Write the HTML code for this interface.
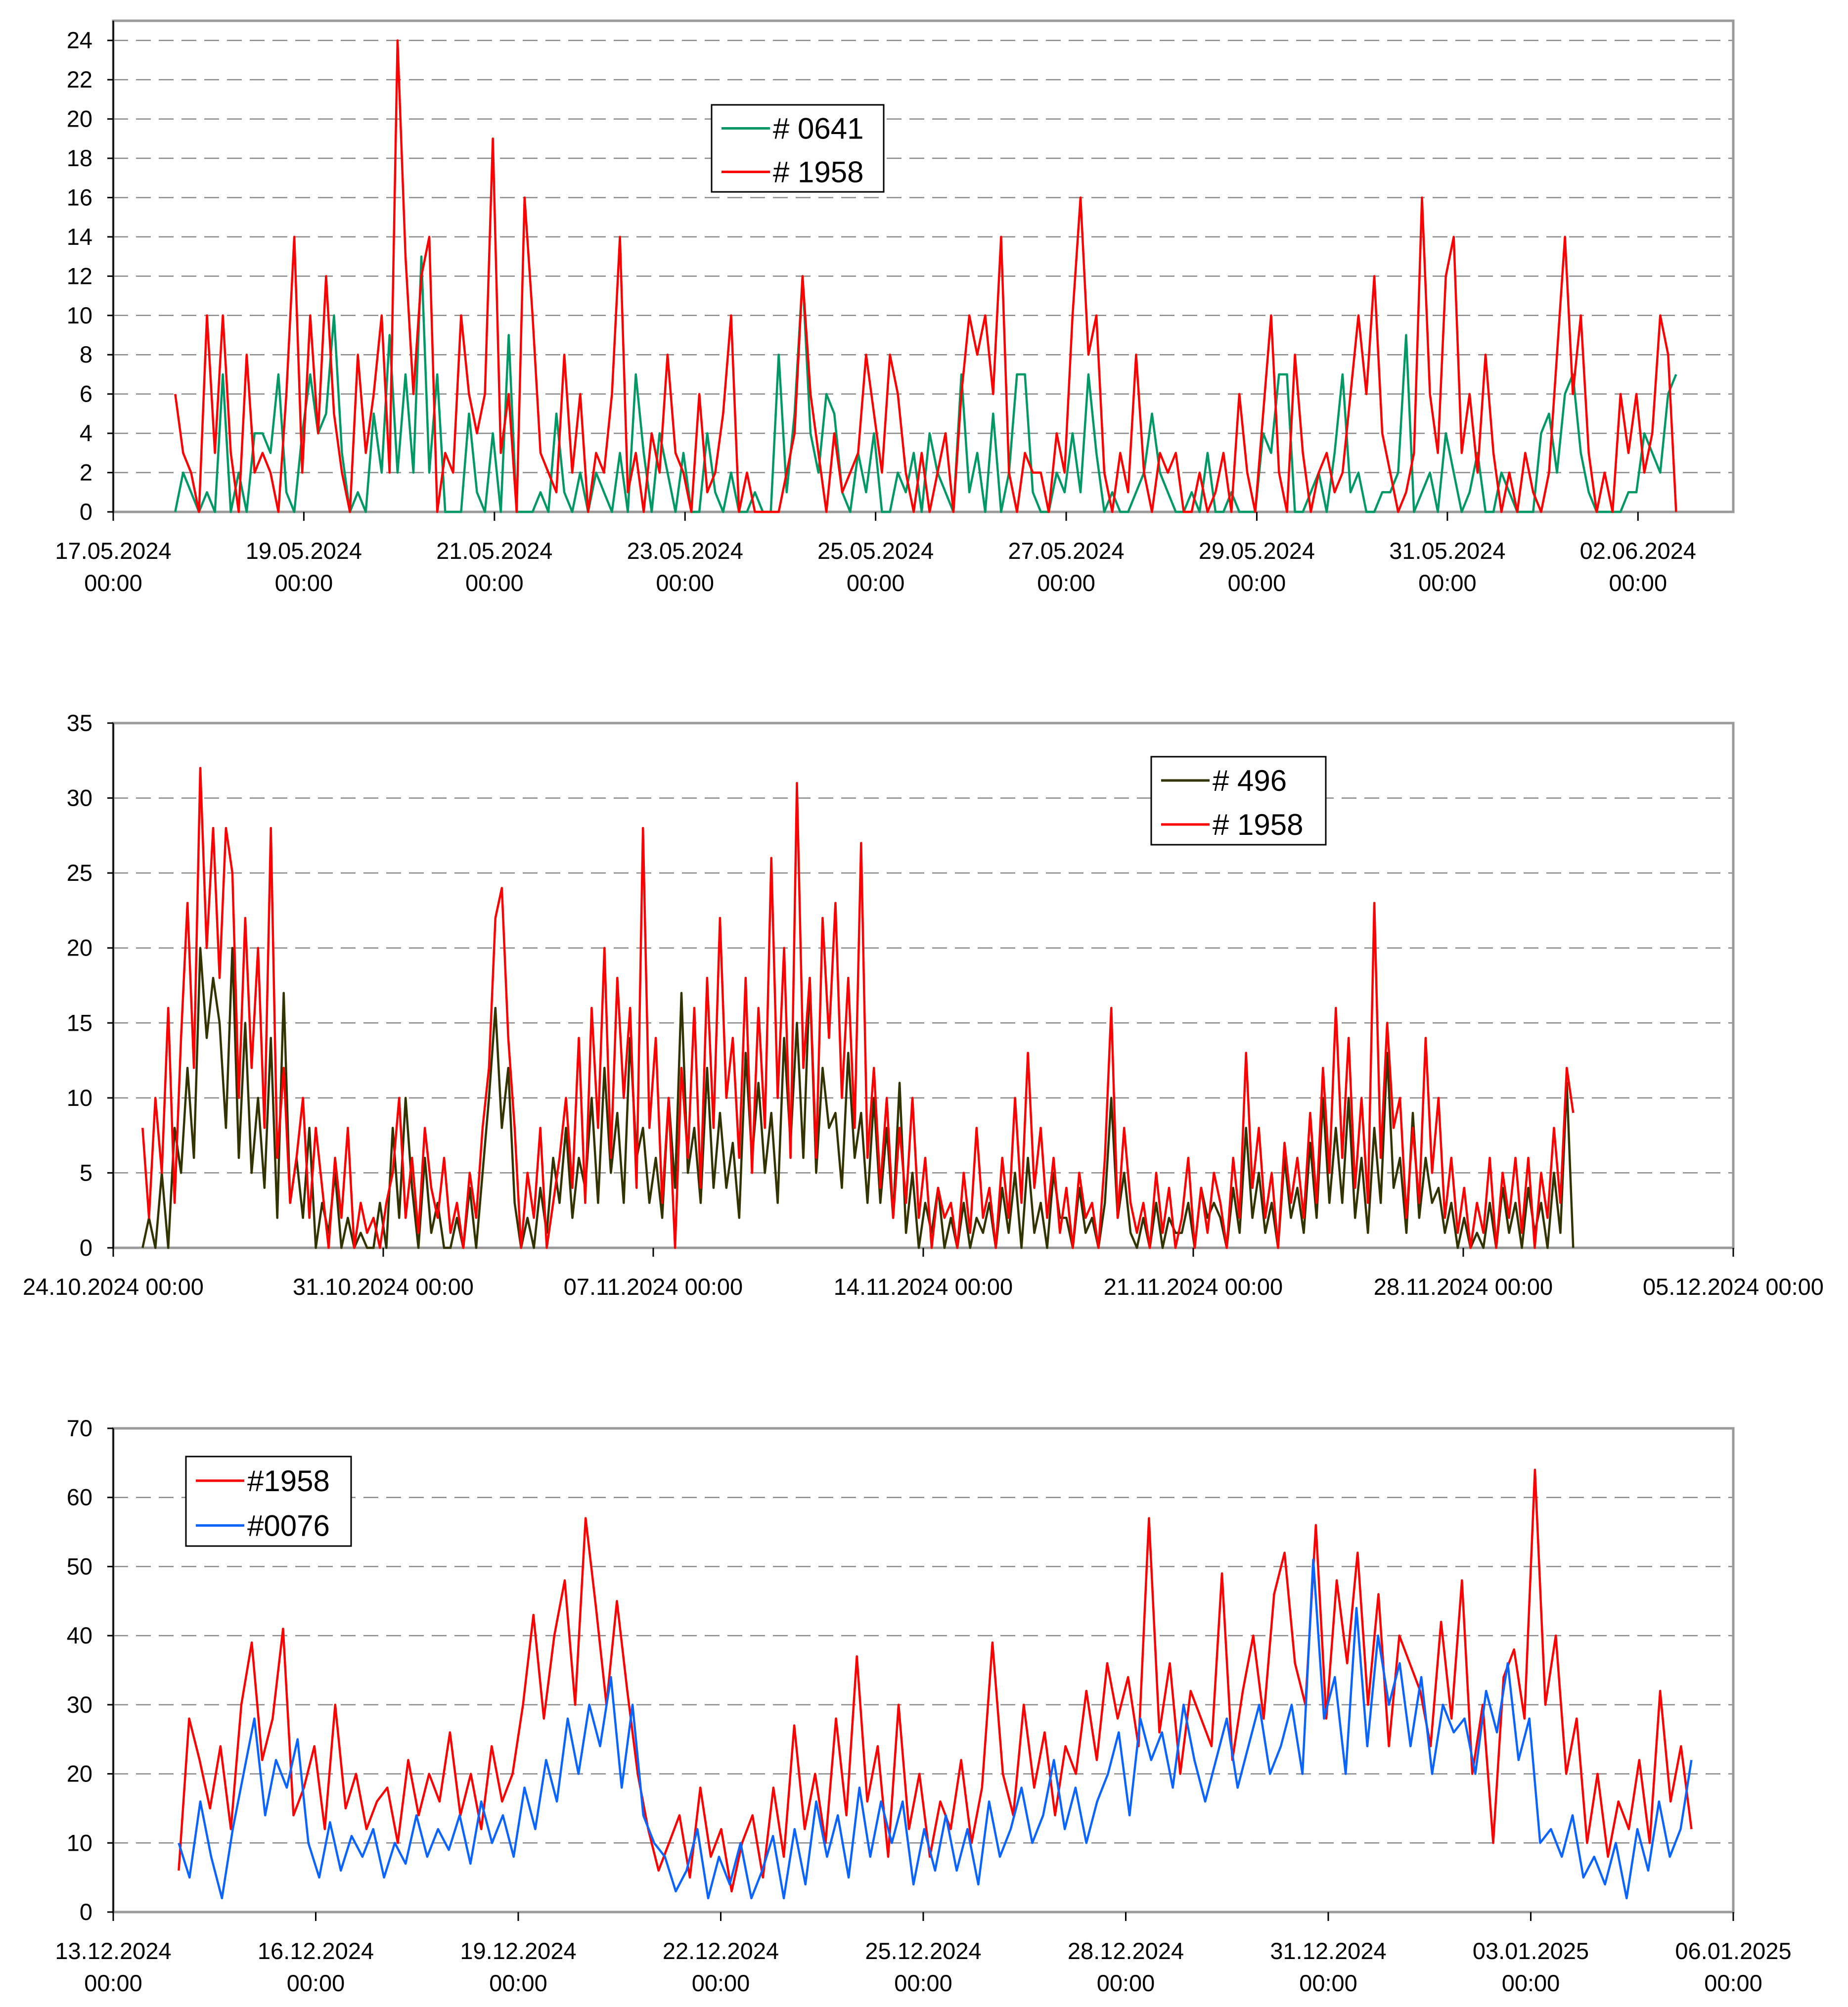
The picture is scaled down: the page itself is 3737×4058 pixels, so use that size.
<!DOCTYPE html>
<html><head><meta charset="utf-8"><style>
html,body{margin:0;padding:0;background:#fff;}
svg{display:block;font-family:"Liberation Sans",Arial,sans-serif;}
</style></head><body>
<svg id="s" width="3737" height="4058" viewBox="0 0 3737 4058"></svg>
<script>
// ---------- Chart 1 data (17.05.2024 – 03.06.2024) ----------
const c1TickLabels = ["17.05.2024","19.05.2024","21.05.2024","23.05.2024","25.05.2024","27.05.2024","29.05.2024","31.05.2024","02.06.2024"];
const c1YTicks = [0,2,4,6,8,10,12,14,16,18,20,22,24];
const c1Names = ["# 0641","# 1958"];
const c1Red = [6,3,2,0,10,3,10,3,0,8, 2,3,2,0,6,14,2,10,4,12, 5,2,0,8,3,6,10,2,24,13, 6,12,14,0,3,2,10,6,4,6,
 19,3,6,0,16,10,3,2,1,8, 2,6,0,3,2,6,14,1,3,0, 4,2,8,3,2,0,6,1,2,5, 10,0,2,0,0,0,0,2,4,12, 6,3,0,4,1,2,3,8,5,2,
 8,6,2,0,3,0,2,4,0,6, 10,8,10,6,14,2,0,3,2,2, 0,4,2,10,16,8,10,2,0,3, 1,8,2,0,3,2,3,0,0,2, 0,1,3,0,6,2,0,5,10,2,
 0,8,3,0,2,3,1,2,6,10, 6,12,4,2,0,1,3,16,6,3, 12,14,3,6,2,8,3,0,2,0, 3,1,0,2,8,14,6,10,3,0, 2,0,6,3,6,2,4,10,8,0];
const c1Green = [0,2,1,0,1,0,7,0,2,0, 4,4,3,7,1,0,4,7,4,5, 10,3,0,1,0,5,2,9,2,7, 2,13,2,7,0,0,0,5,1,0,
 4,0,9,0,0,0,1,0,5,1, 0,2,0,2,1,0,3,0,7,3, 0,4,2,0,3,0,0,4,1,0, 2,0,0,1,0,0,8,1,5,12, 4,2,6,5,1,0,3,1,4,0,
 0,2,1,3,0,4,2,1,0,7, 1,3,0,5,0,2,7,7,1,0, 0,2,1,4,1,7,3,0,1,0, 0,1,2,5,2,1,0,0,1,0, 3,0,0,1,0,0,0,4,3,7,
 7,0,0,1,2,0,3,7,1,2, 0,0,1,1,2,9,0,1,2,0, 4,2,0,1,3,0,0,2,1,0, 0,0,4,5,2,6,7,3,1,0, 0,0,0,1,1,4,3,2,6,7];

// ---------- Chart 2 data (24.10.2024 – 05.12.2024) ----------
const c2TickLabels = ["24.10.2024 00:00","31.10.2024 00:00","07.11.2024 00:00","14.11.2024 00:00","21.11.2024 00:00","28.11.2024 00:00","05.12.2024 00:00"];
const c2YTicks = [0,5,10,15,20,25,30,35];
const c2Names = ["# 496","# 1958"];
const c2Red = [8,2,10,5,16,3, 14,23,12,32,20,28, 18,28,25,10,22,12, 20,8,28,6,12,3, 6,10,2,8,4,0, 6,2,8,0,3,1,
 2,0,3,5,10,2, 6,1,8,4,2,6, 1,3,0,5,2,8, 12,22,24,14,8,0, 5,2,8,0,3,6, 10,4,14,3,16,8, 20,6,18,10,16,4,
 28,8,14,3,10,0, 12,6,16,4,18,8, 22,10,14,6,18,5, 16,8,26,10,20,6, 31,12,18,6,22,14, 23,10,18,8,27,6,
 12,4,10,2,8,3, 10,2,6,0,4,2, 3,0,5,1,8,2, 4,0,6,2,10,3, 13,4,8,2,6,1, 4,0,5,2,3,0, 6,16,2,8,3,1,
 3,0,5,1,4,0, 2,6,0,4,1,5, 3,0,6,2,13,4, 8,2,5,0,7,3, 6,2,9,3,12,5, 16,6,14,4,10,3, 23,6,15,8,10,2,
 8,3,14,5,10,2, 6,1,4,0,3,1, 6,0,5,2,6,1, 6,0,5,2,8,3, 12,9];
const c2Dark = [0,2,0,5,0,8, 5,12,6,20,14,18, 15,8,20,6,15,5, 10,4,14,2,17,3, 6,2,8,0,3,1, 5,0,2,0,1,0,
 0,3,0,8,2,10, 4,0,6,1,3,0, 0,2,0,4,0,5, 10,16,8,12,3,0, 2,0,4,1,6,3, 8,2,6,4,10,3, 12,5,9,3,14,6,
 8,3,6,2,10,4, 17,5,8,3,12,4, 9,4,7,2,13,6, 11,5,9,3,14,7, 15,6,18,5,12,8, 9,4,13,6,9,3,
 10,3,8,2,11,1, 5,0,3,1,4,0, 2,0,3,0,2,1, 3,0,4,1,5,0, 6,1,3,0,5,2, 2,0,4,1,2,0, 3,10,2,5,1,0,
 2,0,3,0,2,1, 1,3,0,4,2,3, 2,0,4,1,8,2, 5,1,3,0,6,2, 4,1,7,2,10,3, 8,3,10,2,6,1, 8,3,13,4,6,1,
 9,2,6,3,4,1, 3,0,2,0,1,0, 3,0,4,1,3,0, 4,1,3,0,5,1, 11,0];

// ---------- Chart 3 data (13.12.2024 – 06.01.2025) ----------
const c3TickLabels = ["13.12.2024","16.12.2024","19.12.2024","22.12.2024","25.12.2024","28.12.2024","31.12.2024","03.01.2025","06.01.2025"];
const c3YTicks = [0,10,20,30,40,50,60,70];
const c3Names = ["#1958","#0076"];
const c3Red = [6,28,22,15,24,12, 30,39,22,28,41,14, 18,24,12,30,15,20, 12,16,18,10,22,14, 20,16,26,14,20,12,
 24,16,20,30,43,28, 40,48,30,57,44,30, 45,32,20,12,6,10, 14,5,18,8,12,3, 10,14,5,18,8,27, 12,20,10,28,14,37,
 16,24,8,30,12,20, 8,16,12,22,10,18, 39,20,14,30,18,26, 14,24,20,32,22,36, 28,34,24,57,26,36, 20,32,28,24,49,22,
 32,40,28,46,52,36, 30,56,28,48,36,52, 30,46,24,40,36,32, 24,42,28,48,20,30, 10,34,38,28,64,30, 40,20,28,10,20,8,
 16,12,22,10,32,16, 24,12];
const c3Blue = [10,5,16,8,2,12, 20,28,14,22,18,25, 10,5,13,6,11,8, 12,5,10,7,14,8, 12,9,14,7,16,10,
 14,8,18,12,22,16, 28,20,30,24,34,18, 30,14,10,8,3,6, 12,2,8,4,10,2, 6,11,2,12,4,16, 8,14,5,18,8,16,
 10,16,4,12,6,14, 6,12,4,16,8,12, 18,10,14,22,12,18, 10,16,20,26,14,28, 22,26,18,30,22,16, 22,28,18,24,30,20,
 24,30,20,51,28,34, 20,44,24,40,30,36, 24,34,20,30,26,28, 20,32,26,36,22,28, 10,12,8,14,5,8,
 4,10,2,12,6,16, 8,12,22];

const NS="http://www.w3.org/2000/svg";
const svg=document.getElementById('s');
function mk(tag,attrs,parent){const e=document.createElementNS(NS,tag);for(const k in attrs)e.setAttribute(k,attrs[k]);(parent||svg).appendChild(e);return e;}

function chart(o){
  const g=mk('g',{});
  
  
  const L=o.L,R=o.R,T=o.T,B=o.B;
  const xs=d=>L+(d-o.d0)/(o.d1-o.d0)*(R-L);
  const ys=v=>B-(v-o.ymin)/(o.ymax-o.ymin)*(B-T);
  o.yTicks.forEach(v=>{ if(v===o.ymin) return;
    const ln=mk('line',{x1:L,x2:R,y1:ys(v),y2:ys(v),stroke:'#8a8a8a','stroke-width':2.5,'stroke-dasharray':'30,16'},g);
    
    
  });
  const fr=mk('rect',{x:L,y:T,width:R-L,height:B-T,fill:'none',stroke:'#9a9a9a','stroke-width':5},g);
  
  
  const ya=mk('line',{x1:L,x2:L,y1:T,y2:B,stroke:'#000','stroke-width':3},g);
  
  
  o.yTicks.forEach(v=>{
    const t=mk('text',{x:L-42,y:ys(v)+16,'text-anchor':'end','font-size':o.fs,fill:'#000'},g);
    t.textContent=v;
    
    
    const tk=mk('line',{x1:L-12,x2:L,y1:ys(v),y2:ys(v),stroke:'#000','stroke-width':3},g);
    
    
  });
  o.xLabels.forEach((lab,i)=>{
    const x=xs(o.d0+i*o.xStep);
    const tk=mk('line',{x1:x,x2:x,y1:B,y2:B+18,stroke:'#000','stroke-width':3},g);
    
    
    const t=mk('text',{x:x,y:B+o.lab1,'text-anchor':'middle','font-size':o.fs,fill:'#000'},g);
    t.textContent=lab;
    
    
    if(o.twoLine){
      const t2=mk('text',{x:x,y:B+o.lab2,'text-anchor':'middle','font-size':o.fs,fill:'#000'},g);
      t2.textContent='00:00';
      
      
    }
  });
  o.series.forEach(s=>{
    const n=s.vals.length, step=(s.end-s.start)/(n-1);
    const pts=s.vals.map((v,i)=>xs(s.start+i*step).toFixed(1)+','+ys(v).toFixed(1)).join(' ');
    const pl=mk('polyline',{points:pts,fill:'none',stroke:s.color,'stroke-width':4.5,'stroke-linejoin':'round'},g);
    
    
  });
  const lg=o.legend;
  const lgG=mk('g',{},g);
  
  
  const lr=mk('rect',{x:lg.x,y:lg.y,width:lg.w,height:lg.h,fill:'#fff',stroke:'#000','stroke-width':3},lgG);
  
  
  o.series.forEach((s,i)=>{
    const yy=lg.y+lg.h*(0.27+0.5*i);
    const l=mk('line',{x1:lg.x+20,x2:lg.x+118,y1:yy,y2:yy,stroke:s.color,'stroke-width':5},lgG);
    
    
    const t=mk('text',{x:lg.x+124,y:yy+21,'font-size':60,fill:'#000'},lgG);
    t.textContent=s.label;
    
    
  });
}

chart({name:'chart-may-2024',L:229,R:3505,T:42,B:1035,d0:0,d1:17,ymin:0,ymax:25,yTicks:c1YTicks,
  xLabels:c1TickLabels,xStep:2,twoLine:true,lab1:95,lab2:160,fs:47,
  series:[{id:'series-0641',label:c1Names[0],color:'#009966',vals:c1Green,start:0.65,end:16.4},
          {id:'series-1958',label:c1Names[1],color:'#ff0000',vals:c1Red,start:0.65,end:16.4}],
  legend:{x:1439,y:212,w:348,h:176}});

chart({name:'chart-oct-nov-2024',L:229,R:3505,T:1462,B:2523,d0:0,d1:42,ymin:0,ymax:35,yTicks:c2YTicks,
  xLabels:c2TickLabels,xStep:7,twoLine:false,lab1:95,fs:47,
  series:[{id:'series-496',label:c2Names[0],color:'#333300',vals:c2Dark,start:0.76,end:37.85},
          {id:'series-1958',label:c2Names[1],color:'#ff0000',vals:c2Red,start:0.76,end:37.85}],
  legend:{x:2328,y:1530,w:353,h:178}});

chart({name:'chart-dec-jan-2025',L:229,R:3505,T:2888,B:3866,d0:0,d1:24,ymin:0,ymax:70,yTicks:c3YTicks,
  xLabels:c3TickLabels,xStep:3,twoLine:true,lab1:95,lab2:160,fs:47,
  series:[{id:'series-1958',label:c3Names[0],color:'#ff0000',vals:c3Red,start:0.97,end:23.38},
          {id:'series-0076',label:c3Names[1],color:'#0a64ff',vals:c3Blue,start:0.97,end:23.38}],
  legend:{x:376,y:2945,w:334,h:181}});
</script>
</body></html>
